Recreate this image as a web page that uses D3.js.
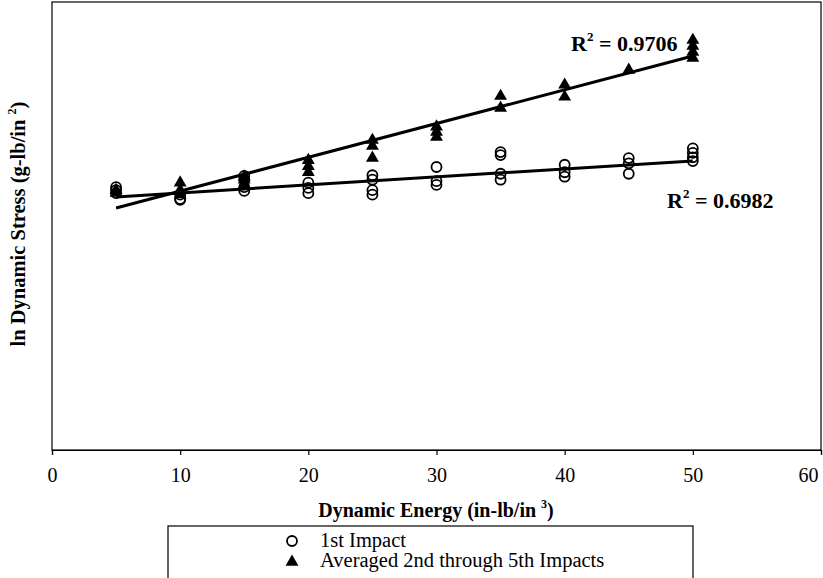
<!DOCTYPE html>
<html>
<head>
<meta charset="utf-8">
<script src="https://cdn.jsdelivr.net/npm/d3@7/dist/d3.min.js"></script>
<style>
  html, body { margin: 0; padding: 0; background: #fff; }
  svg { display: block; }
  text { font-family: "Liberation Serif", "Times New Roman", serif; fill: #000; }
</style>
</head>
<body>
<svg id="chart" width="823" height="578"></svg>
<script>
// Dynamic energy (in-lb/in^3) and ln dynamic stress for each impact series
const firstImpactX = [5,5,5, 10,10,10, 15,15,15,15, 20,20,20, 25,25,25,25, 30,30,30, 35,35,35,35, 40,40,40, 45,45,45, 50,50,50,50];
const firstImpactY = [3.52,3.48,3.44, 3.42,3.36,3.35, 3.67,3.62,3.52,3.47, 3.58,3.51,3.44, 3.68,3.62,3.48,3.42, 3.79,3.60,3.55, 3.99,3.95,3.70,3.62, 3.82,3.72,3.66, 3.91,3.84,3.70, 4.04,3.98,3.92,3.87];

const laterImpactX = [5,5, 10,10,10, 15,15,15, 20,20,20, 25,25,25, 30,30,30, 35,35, 40,40, 45, 50,50,50,50];
const laterImpactY = [3.48,3.44, 3.58,3.48,3.42, 3.66,3.62,3.55, 3.88,3.80,3.72, 4.15,4.07,3.91, 4.33,4.26,4.19, 4.74,4.58, 4.89,4.73, 5.09, 5.49,5.41,5.33,5.25];

// Linear trend lines: [intercept, slope], drawn over the tested energy range
const firstTrend = [3.335, 0.01073];
const laterTrend = [3.015, 0.04524];
const trendRange = [5, 50];
const firstR2 = "0.6982";
const laterR2 = "0.9706";

const xTicks = [0, 10, 20, 30, 40, 50, 60];
const legendLabels = ["1st Impact", "Averaged 2nd through 5th Impacts"];

const svg = d3.select("#chart");
const plotLeft = 52, plotRight = 821, plotTop = 2, plotBottom = 450;

const x = d3.scaleLinear().domain([0, 60]).range([plotLeft, plotRight]);
const y = d3.scaleLinear().domain([0, 6]).range([plotBottom, plotTop]);

// plot frame
svg.append("rect")
  .attr("x", plotLeft).attr("y", plotTop)
  .attr("width", plotRight - plotLeft).attr("height", plotBottom - plotTop)
  .attr("fill", "none").attr("stroke", "#000").attr("stroke-width", 1.2);

// x axis
const xAxis = svg.append("g")
  .attr("transform", `translate(0,${plotBottom})`)
  .call(d3.axisBottom(x).tickValues(xTicks).tickSize(5).tickPadding(13).tickFormat(d3.format("d")));
xAxis.select(".domain").attr("stroke", "#000").attr("stroke-width", 1.2);
xAxis.selectAll(".tick line").attr("stroke", "#000").attr("stroke-width", 1.2);
xAxis.selectAll(".tick text")
  .attr("font-family", "Liberation Serif, serif")
  .attr("font-size", 20)
  .attr("fill", "#000");
xAxis.selectAll(".tick text").filter(d => d === 60).attr("dx", -13);

// axis titles
const xTitle = svg.append("text")
  .attr("x", 436).attr("y", 517)
  .attr("text-anchor", "middle")
  .attr("font-weight", "bold").attr("font-size", 20);
xTitle.append("tspan").text("Dynamic Energy (in-lb/in ");
xTitle.append("tspan").attr("font-size", 12).attr("dy", -9).text("3");
xTitle.append("tspan").attr("dy", 9).text(")");

const yTitle = svg.append("text")
  .attr("transform", "translate(25,224) rotate(-90)")
  .attr("text-anchor", "middle")
  .attr("font-weight", "bold").attr("font-size", 20.5);
yTitle.append("tspan").text("ln Dynamic Stress (g-lb/in ");
yTitle.append("tspan").attr("font-size", 12).attr("dy", -9).text("2");
yTitle.append("tspan").attr("dy", 9).text(")");

// trend lines
const trendLine = d3.line().x(d => x(d[0])).y(d => y(d[1]));
[firstTrend, laterTrend].forEach(t => {
  svg.append("path")
    .attr("d", trendLine(trendRange.map(e => [e, t[0] + t[1] * e])))
    .attr("fill", "none").attr("stroke", "#000").attr("stroke-width", 3);
});

// markers
const tri = d3.symbol(d3.symbolTriangle, 72);
svg.append("g").selectAll("path")
  .data(laterImpactX.map((e, i) => [e, laterImpactY[i]]))
  .join("path")
  .attr("d", tri)
  .attr("transform", d => `translate(${x(d[0])},${y(d[1])})`)
  .attr("fill", "#000");

svg.append("g").selectAll("circle")
  .data(firstImpactX.map((e, i) => [e, firstImpactY[i]]))
  .join("circle")
  .attr("cx", d => x(d[0])).attr("cy", d => y(d[1]))
  .attr("r", 5)
  .attr("fill", "none").attr("stroke", "#000").attr("stroke-width", 1.8);

// R-squared labels
function r2Label(px, py, value) {
  const t = svg.append("text")
    .attr("x", px).attr("y", py)
    .attr("font-weight", "bold").attr("font-size", 22);
  t.append("tspan").text("R");
  t.append("tspan").attr("font-size", 13).attr("dy", -10).text("2");
  t.append("tspan").attr("dy", 10).text(" = " + value);
}
r2Label(571, 51, laterR2);
r2Label(667, 208, firstR2);

// legend
const legend = svg.append("g");
legend.append("rect")
  .attr("x", 168).attr("y", 526).attr("width", 525).attr("height", 70)
  .attr("fill", "#fff").attr("stroke", "#000").attr("stroke-width", 1.2);
legend.append("circle")
  .attr("cx", 292).attr("cy", 541).attr("r", 5)
  .attr("fill", "none").attr("stroke", "#000").attr("stroke-width", 1.8);
legend.append("path")
  .attr("d", tri)
  .attr("transform", "translate(292,562)")
  .attr("fill", "#000");
legendLabels.forEach((label, i) => {
  legend.append("text")
    .attr("x", 320).attr("y", 547 + i * 20)
    .attr("font-size", 20.5)
    .text(label);
});
</script>
</body>
</html>
